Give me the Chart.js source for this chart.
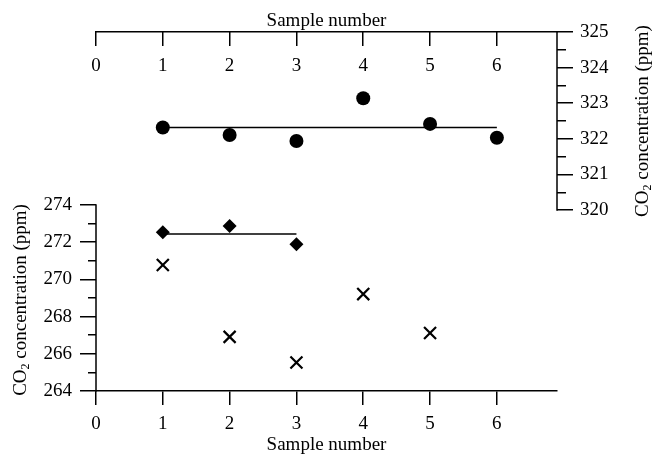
<!DOCTYPE html>
<html>
<head>
<meta charset="utf-8">
<script src="https://cdn.jsdelivr.net/npm/chart.js@4.4.0/dist/chart.umd.min.js"></script>
<style>
  html, body { margin: 0; padding: 0; background: #fff; }
  #wrap { width: 658px; height: 455px; }
</style>
</head>
<body>
<div id="wrap"><canvas id="grafica"></canvas></div>
<script>
// --- Datos ---
const samples = [1, 2, 3, 4, 5, 6];
const topValues = [322.32, 322.11, 321.94, 323.14, 322.42, 322.03];
const topMean = 322.32;

const diamondSamples = [1, 2, 3];
const diamondValues = [272.53, 272.87, 271.89];
const diamondMean = 272.44;

const crossSamples = [1, 2, 3, 4, 5];
const crossValues = [270.77, 266.91, 265.53, 269.21, 267.12];

const xTicks = [0, 1, 2, 3, 4, 5, 6];
const leftTicks = [264, 266, 268, 270, 272, 274];
const rightTicks = [320, 321, 322, 323, 324, 325];

const yTitle = ['CO', '2', ' concentration (ppm)'];
const xTitle = 'Sample number';

// --- Estilo ---
const FAMILY = '"Liberation Serif", "Times New Roman", serif';
const font = { family: FAMILY, size: 19 };
const BLACK = '#000';
const NONE = 'rgba(0,0,0,0)';

const pts = (xs, ys) => xs.map((x, i) => ({ x: x, y: ys[i] }));
const meanLine = (xs, v) => [{ x: xs[0], y: v }, { x: xs[xs.length - 1], y: v }];

// ejes verticales parciales + titulos rotados con subindice
const extras = {
  id: 'extras',
  afterDraw(chart) {
    const ctx = chart.ctx;
    const yL = chart.scales.y, yR = chart.scales.yRight;
    ctx.save();
    ctx.strokeStyle = BLACK;
    ctx.lineWidth = 1.5;
    ctx.beginPath();
    ctx.moveTo(yL.right, yL.getPixelForValue(leftTicks[0]) + 0.75);
    ctx.lineTo(yL.right, yL.getPixelForValue(leftTicks[leftTicks.length - 1]) - 0.75);
    ctx.moveTo(yR.left, yR.getPixelForValue(rightTicks[0]) + 0.75);
    ctx.lineTo(yR.left, yR.getPixelForValue(rightTicks[rightTicks.length - 1]) - 0.75);
    ctx.stroke();

    const midL = (yL.getPixelForValue(leftTicks[0]) + yL.getPixelForValue(leftTicks[leftTicks.length - 1])) / 2;
    const midR = (yR.getPixelForValue(rightTicks[0]) + yR.getPixelForValue(rightTicks[rightTicks.length - 1])) / 2;
    drawRotTitle(ctx, 21, midL + 2);
    drawRotTitle(ctx, 643, midR);
    ctx.restore();
  }
};

function drawRotTitle(ctx, cx, cy) {
  const big = '19px ' + FAMILY, small = '12px ' + FAMILY;
  ctx.save();
  ctx.translate(cx, cy);
  ctx.rotate(-Math.PI / 2);
  ctx.fillStyle = BLACK;
  ctx.textBaseline = 'middle';
  ctx.textAlign = 'left';
  ctx.font = big; const w1 = ctx.measureText(yTitle[0]).width;
  ctx.font = small; const w2 = ctx.measureText(yTitle[1]).width;
  ctx.font = big; const w3 = ctx.measureText(yTitle[2]).width;
  let x = -(w1 + w2 + w3) / 2;
  ctx.font = big; ctx.fillText(yTitle[0], x, 0); x += w1;
  ctx.font = small; ctx.fillText(yTitle[1], x, 5); x += w2;
  ctx.font = big; ctx.fillText(yTitle[2], x, 0);
  ctx.restore();
}

const ctx = document.getElementById('grafica').getContext('2d');
new Chart(ctx, {
  type: 'scatter',
  data: {
    datasets: [
      { data: pts(samples, topValues), xAxisID: 'xTop', yAxisID: 'yRight',
        pointStyle: 'circle', pointRadius: 7, backgroundColor: BLACK, borderColor: BLACK, borderWidth: 0 },
      { data: meanLine(samples, topMean), xAxisID: 'xTop', yAxisID: 'yRight',
        showLine: true, pointRadius: 0, borderColor: BLACK, borderWidth: 1.5 },
      { data: pts(diamondSamples, diamondValues), xAxisID: 'x', yAxisID: 'y',
        pointStyle: 'rectRot', pointRadius: 7, backgroundColor: BLACK, borderColor: BLACK, borderWidth: 0 },
      { data: meanLine(diamondSamples, diamondMean), xAxisID: 'x', yAxisID: 'y',
        showLine: true, pointRadius: 0, borderColor: BLACK, borderWidth: 1.5 },
      { data: pts(crossSamples, crossValues), xAxisID: 'x', yAxisID: 'y',
        pointStyle: 'crossRot', pointRadius: 8.5, borderColor: BLACK, borderWidth: 2.2 }
    ]
  },
  options: {
    responsive: true,
    maintainAspectRatio: false,
    animation: false,
    events: [],
    layout: { padding: 0 },
    plugins: { legend: { display: false }, tooltip: { enabled: false } },
    scales: {
      x: {
        type: 'linear', position: 'bottom', min: 0, max: 6.9,
        afterFit: s => { s.height = 64; },
        border: { display: true, color: BLACK, width: 1.5 },
        grid: { drawOnChartArea: false, tickLength: 14, color: BLACK, lineWidth: 1.5 },
        ticks: { stepSize: 1, includeBounds: false, autoSkip: false, maxRotation: 0, padding: 8,
          font: font, color: BLACK, callback: v => xTicks.includes(v) ? String(v) : '' },
        title: { display: true, text: xTitle, color: BLACK,
          font: { family: FAMILY, size: 19, lineHeight: 1 }, padding: { top: 0, bottom: 0 } }
      },
      xTop: {
        type: 'linear', position: 'top', min: 0, max: 6.9,
        afterFit: s => { s.height = 32; },
        border: { display: true, color: BLACK, width: 1.5 },
        grid: { drawOnChartArea: false, tickLength: -14, color: BLACK, lineWidth: 1.5 },
        ticks: { stepSize: 1, includeBounds: false, autoSkip: false, maxRotation: 0, mirror: true, padding: 23,
          font: font, color: BLACK, callback: v => xTicks.includes(v) ? String(v) : '' },
        title: { display: true, text: xTitle, color: BLACK,
          font: { family: FAMILY, size: 19, lineHeight: 1 }, padding: { top: 11.5, bottom: 0 } }
      },
      y: {
        type: 'linear', position: 'left', min: 264, max: 283.3,
        afterFit: s => { s.width = 96; },
        border: { display: false },
        grid: { drawOnChartArea: false, tickLength: 16, lineWidth: 1.5,
          color: c => (c.tick && c.tick.value <= leftTicks[leftTicks.length - 1]) ? BLACK : NONE,
          tickBorderDash: c => (c.tick && leftTicks.includes(c.tick.value)) ? [] : [0, 8, 8, 100] },
        ticks: { stepSize: 1, includeBounds: false, autoSkip: false, padding: 8,
          font: font, color: BLACK, callback: v => leftTicks.includes(v) ? String(v) : '' }
      },
      yRight: {
        type: 'linear', position: 'right', min: 314.92, max: 325,
        afterFit: s => { s.width = 101; },
        border: { display: false },
        grid: { drawOnChartArea: false, tickLength: 16, lineWidth: 1.5,
          color: c => (c.tick && c.tick.value >= rightTicks[0]) ? BLACK : NONE,
          tickBorderDash: c => (c.tick && rightTicks.includes(c.tick.value)) ? [] : [9, 100] },
        ticks: { stepSize: 0.5, includeBounds: false, autoSkip: false, padding: 7,
          font: font, color: BLACK, callback: v => rightTicks.includes(v) ? String(v) : '' }
      }
    }
  },
  plugins: [extras]
});
</script>
</body>
</html>
